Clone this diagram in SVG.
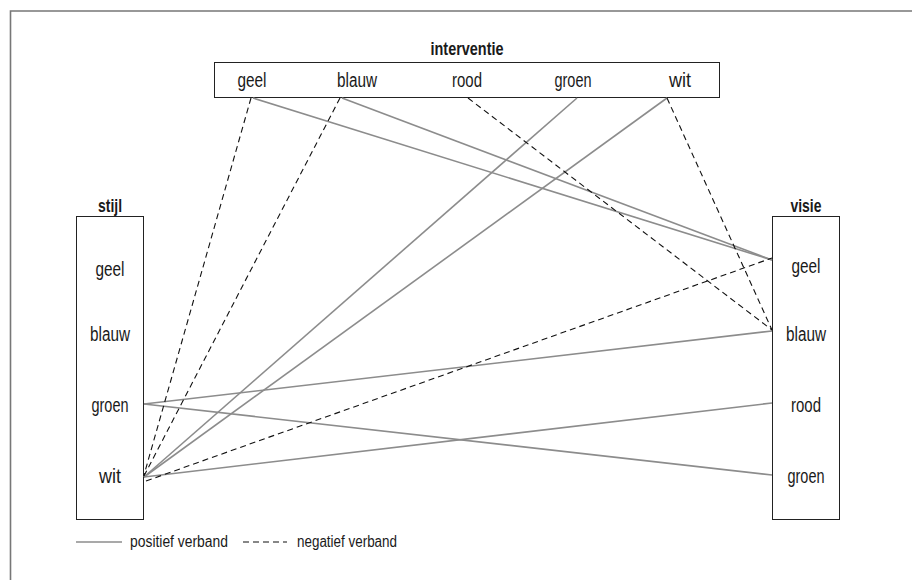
<svg xmlns="http://www.w3.org/2000/svg" width="912" height="580" viewBox="0 0 912 580">
<style>
text{font-family:"Liberation Sans",Arial,sans-serif;fill:#1a1a1a}
.t{font-size:20px}
.h{font-size:19px;font-weight:bold}
.lg{font-size:16px}
.box{fill:#fff;stroke:#222;stroke-width:1}
.pos{stroke:#8c8c8c;stroke-width:1.6;fill:none}
.neg{stroke:#111;stroke-width:1.1;stroke-dasharray:6 4;fill:none}
</style>
<rect width="912" height="580" fill="#fff"/>
<path d="M10.5 580 V11 H912" fill="none" stroke="#777" stroke-width="1.6"/>
<g id="interventie">
<text class="h" x="467" y="55" text-anchor="middle" textLength="73" lengthAdjust="spacingAndGlyphs">interventie</text>
<rect class="box" x="214.5" y="62.5" width="505" height="35"/>
<text class="t" x="252" y="87" text-anchor="middle" textLength="29" lengthAdjust="spacingAndGlyphs">geel</text>
<text class="t" x="357" y="87" text-anchor="middle" textLength="40" lengthAdjust="spacingAndGlyphs">blauw</text>
<text class="t" x="467" y="87" text-anchor="middle" textLength="30" lengthAdjust="spacingAndGlyphs">rood</text>
<text class="t" x="573" y="87" text-anchor="middle" textLength="37" lengthAdjust="spacingAndGlyphs">groen</text>
<text class="t" x="680" y="87" text-anchor="middle" textLength="22" lengthAdjust="spacingAndGlyphs">wit</text>
</g>
<g id="stijl">
<text class="h" x="110" y="212" text-anchor="middle" textLength="24" lengthAdjust="spacingAndGlyphs">stijl</text>
<rect class="box" x="76.5" y="216.5" width="67" height="303"/>
<text class="t" x="110" y="276" text-anchor="middle" textLength="29" lengthAdjust="spacingAndGlyphs">geel</text>
<text class="t" x="110" y="341" text-anchor="middle" textLength="40" lengthAdjust="spacingAndGlyphs">blauw</text>
<text class="t" x="110" y="412" text-anchor="middle" textLength="37" lengthAdjust="spacingAndGlyphs">groen</text>
<text class="t" x="110" y="483" text-anchor="middle" textLength="22" lengthAdjust="spacingAndGlyphs">wit</text>
</g>
<g id="visie">
<text class="h" x="806" y="212" text-anchor="middle" textLength="31" lengthAdjust="spacingAndGlyphs">visie</text>
<rect class="box" x="772.5" y="216.5" width="67" height="303"/>
<text class="t" x="806" y="273" text-anchor="middle" textLength="29" lengthAdjust="spacingAndGlyphs">geel</text>
<text class="t" x="806" y="341" text-anchor="middle" textLength="40" lengthAdjust="spacingAndGlyphs">blauw</text>
<text class="t" x="806" y="412" text-anchor="middle" textLength="30" lengthAdjust="spacingAndGlyphs">rood</text>
<text class="t" x="806" y="483" text-anchor="middle" textLength="37" lengthAdjust="spacingAndGlyphs">groen</text>
</g>
<g id="connectors">
<line class="pos" x1="253" y1="98" x2="772" y2="260"/>
<line class="pos" x1="342" y1="98" x2="772" y2="260"/>
<line class="pos" x1="577" y1="98" x2="144" y2="477"/>
<line class="pos" x1="667" y1="98" x2="144" y2="477"/>
<line class="pos" x1="144" y1="404" x2="772" y2="331"/>
<line class="pos" x1="144" y1="404" x2="772" y2="475"/>
<line class="pos" x1="144" y1="477" x2="772" y2="403"/>
<line class="neg" x1="251" y1="98" x2="144" y2="475"/>
<line class="neg" x1="340" y1="98" x2="144" y2="476"/>
<line class="neg" x1="468" y1="98" x2="772" y2="330"/>
<line class="neg" x1="667" y1="98" x2="772" y2="330"/>
<line class="neg" x1="146" y1="481" x2="772" y2="258"/>
</g>
<g id="legend">
<line class="pos" x1="76" y1="542" x2="122" y2="542"/>
<text class="lg" x="130" y="547" textLength="98" lengthAdjust="spacingAndGlyphs">positief verband</text>
<line class="neg" x1="243" y1="542" x2="287" y2="542"/>
<text class="lg" x="297" y="547" textLength="100" lengthAdjust="spacingAndGlyphs">negatief verband</text>
</g>
</svg>
